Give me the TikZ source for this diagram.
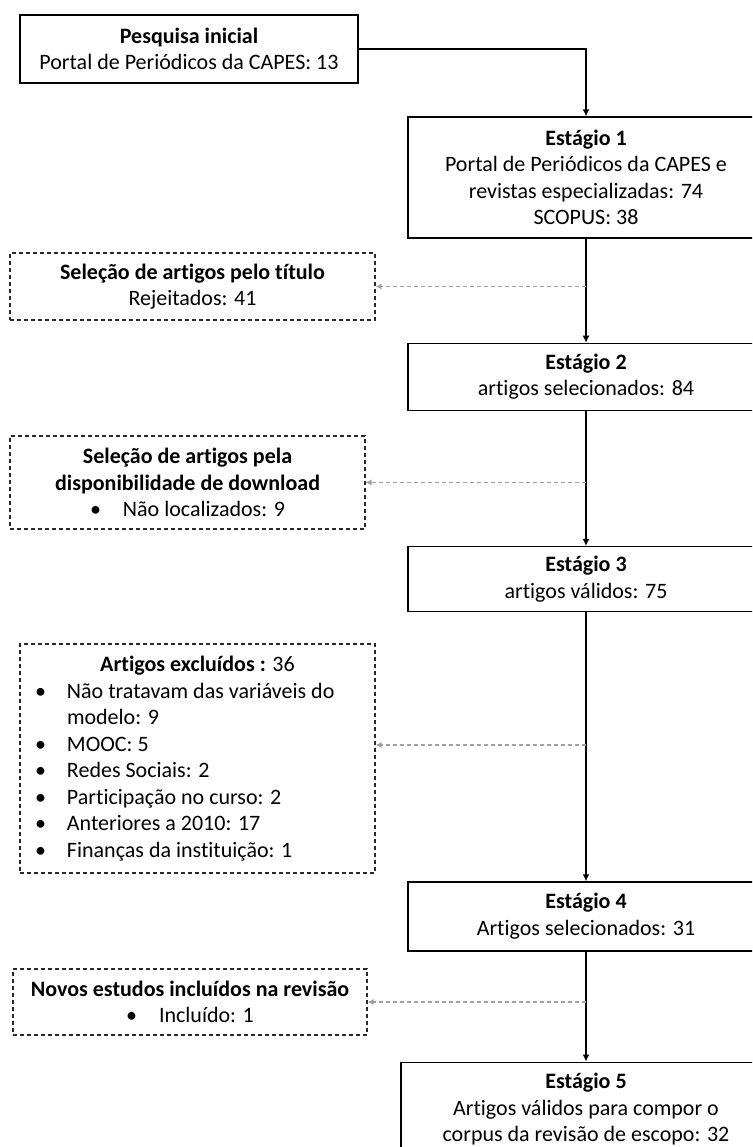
\documentclass[tikz,border=0pt]{standalone}
\usepackage{fontspec}
\setmainfont[Ligatures=NoCommon]{Carlito}
\usepackage{tikz}
\usetikzlibrary{arrows.meta,positioning}
\definecolor{dashgray}{RGB}{160,160,160}
\definecolor{boxgray}{RGB}{40,40,40}

\begin{document}
\begin{tikzpicture}[x=1pt, y=-1pt, node distance=104pt]
    \tikzstyle{stage}=[draw, line width=1.3pt, align=center, inner sep=0pt, minimum width=356pt, font=\fontsize{22}{26.5}\selectfont]
    \tikzstyle{side}=[draw=boxgray, line width=1.1pt, dash pattern=on 4pt off 3pt, align=center, inner sep=0pt, font=\fontsize{22}{26.5}\selectfont]
    \tikzstyle{flow}=[-{Latex[length=7pt, width=7pt]}, line width=1.3pt]
    \tikzstyle{skip}=[-{Latex[length=6pt, width=6pt]}, dashgray, line width=1.1pt, dash pattern=on 4pt off 3pt]
    \useasboundingbox (0,0) rectangle (752,1147);
    \clip (0,0) rectangle (752,1147);
    \node[stage, minimum width=338pt, minimum height=68pt] (start) at (189,49) {\textbf{Pesquisa inicial}\\Portal de Periódicos da CAPES: 13};
    \node[stage, minimum height=121pt] (s1) at (586,177.5) {\textbf{Estágio 1}\\Portal de Periódicos da CAPES e\\revistas especializadas: 74\\SCOPUS: 38};
    \node[stage, minimum height=67pt, below=104pt of s1] (s2) {\textbf{Estágio 2}\\artigos selecionados: 84};
    \node[stage, minimum height=65pt, below=135pt of s2] (s3) {\textbf{Estágio 3}\\artigos válidos: 75};
    \node[stage, minimum height=69pt, below=269pt of s3] (s4) {\textbf{Estágio 4}\\Artigos selecionados: 31};
    \node[stage, minimum width=370pt, minimum height=94pt, below=110pt of s4] (s5) {\textbf{Estágio 5}\\Artigos válidos para compor o\\corpus da revisão de escopo: 32};
    \node[side, minimum width=365pt, minimum height=67pt] (title) at (192.5,286.5) {\textbf{Seleção de artigos pelo título}\\Rejeitados: 41};
    \node[side, minimum width=355pt, minimum height=93pt] (avail) at (187.5,482.5) {\textbf{Seleção de artigos pela}\\\textbf{disponibilidade de download}\\\textbullet\hspace{22pt}Não localizados: 9};
    \node[side, minimum width=355pt, minimum height=229pt] (excl) at (197.5,758.5) {\begin{minipage}{355pt}
      \centering\textbf{Artigos excluídos :} 36\par
      \raggedright
      \hspace*{15pt}\makebox[32pt][l]{\textbullet}Não tratavam das variáveis do\par
      \hspace*{47pt}modelo: 9\par
      \hspace*{15pt}\makebox[32pt][l]{\textbullet}MOOC: 5\par
      \hspace*{15pt}\makebox[32pt][l]{\textbullet}Redes Sociais: 2\par
      \hspace*{15pt}\makebox[32pt][l]{\textbullet}Participação no curso: 2\par
      \hspace*{15pt}\makebox[32pt][l]{\textbullet}Anteriores a 2010: 17\par
      \hspace*{15pt}\makebox[32pt][l]{\textbullet}Finanças da instituição: 1\par
    \end{minipage}};
    \node[side, minimum width=354pt, minimum height=66pt] (new) at (190,1002) {\textbf{Novos estudos incluídos na revisão}\\\textbullet\hspace{22pt}Incluído: 1};
    \draw[flow] (start.east) -| (s1.north);
    \draw[flow] (s1) -- (s2);
    \draw[flow] (s2) -- (s3);
    \draw[flow] (s3) -- (s4);
    \draw[flow] (s4) -- (s5);
    \coordinate (j1) at (s1 |- title);
    \coordinate (j2) at (s2 |- avail);
    \coordinate (j3) at (586,745);
    \coordinate (j4) at (s4 |- new);
    \draw[skip] (j1) -- (title);
    \draw[skip] (j2) -- (avail);
    \draw[skip] (j3) -- (excl.east |- j3);
    \draw[skip] (j4) -- (new);
\end{tikzpicture}
\end{document}
